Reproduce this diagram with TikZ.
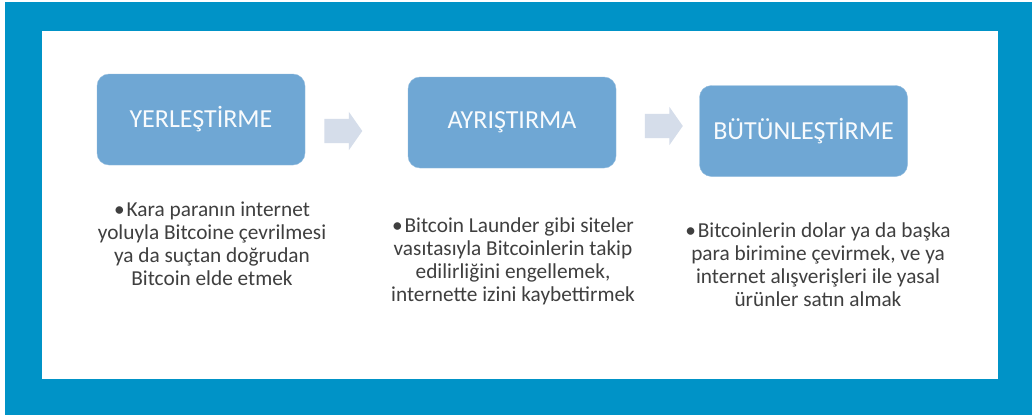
\documentclass[tikz,border=0pt]{standalone}
\usepackage{fontspec}
\setmainfont{Carlito}
\usetikzlibrary{shapes.arrows}
\definecolor{mFrame}{HTML}{0093C7}
\definecolor{mStep}{HTML}{6FA7D4}
\definecolor{mFlow}{HTML}{D5DDEA}
\definecolor{mText}{HTML}{3F3F3F}

\begin{document}
\begin{tikzpicture}
  [x=1pt,y=-1pt,
  phase/.style={rectangle,rounded corners=12pt,fill=mStep,draw=mStep!75!white,
    text=white!95!mStep,font=\fontsize{26}{30}\selectfont,
    minimum width=208pt,minimum height=91pt,inner sep=0pt},
  flow/.style={single arrow,fill=mFlow,draw=none,minimum height=38pt,
    single arrow head extend=7pt,inner xsep=0pt,inner ysep=12pt,
    single arrow tip angle=110},
  note/.style={align=center,anchor=north,inner sep=0pt,text=mText,
    font=\fontsize{21.3}{23}\selectfont}]

  \useasboundingbox[fill=white] (0,0) rectangle (1032,415);
  \fill[mFrame] (5,2) rectangle (1032,415);
  \fill[white] (42,31) rectangle (998,379);

  \node[phase] (yer) at (201,119.5) {YERLEŞTİRME};
  \node[phase] (ayr) at (512,122.5) {AYRIŞTIRMA};
  \node[phase] (but) at (803.5,131) {BÜTÜNLEŞTİRME};

  \node[flow] (f1) at (339,131) {};
  \node[flow] (f2) at (659.5,126) {};

  \node[note] (tyer) at (212,201.5) {•\hspace{2pt}Kara paranın internet\\
    yoluyla Bitcoine çevrilmesi\\ ya da suçtan doğrudan\\ Bitcoin elde etmek};
  \node[note] (tayr) at (513,217.5) {•\hspace{2pt}Bitcoin Launder gibi siteler\\
    vasıtasıyla Bitcoinlerin takip\\ edilirliğini engellemek,\\
    internette izini kaybettirmek};
  \node[note] (tbut) at (818,222.5) {•\hspace{2pt}Bitcoinlerin dolar ya da başka\\
    para birimine çevirmek, ve ya\\ internet alışverişleri ile yasal\\
    ürünler satın almak};
\end{tikzpicture}
\end{document}
